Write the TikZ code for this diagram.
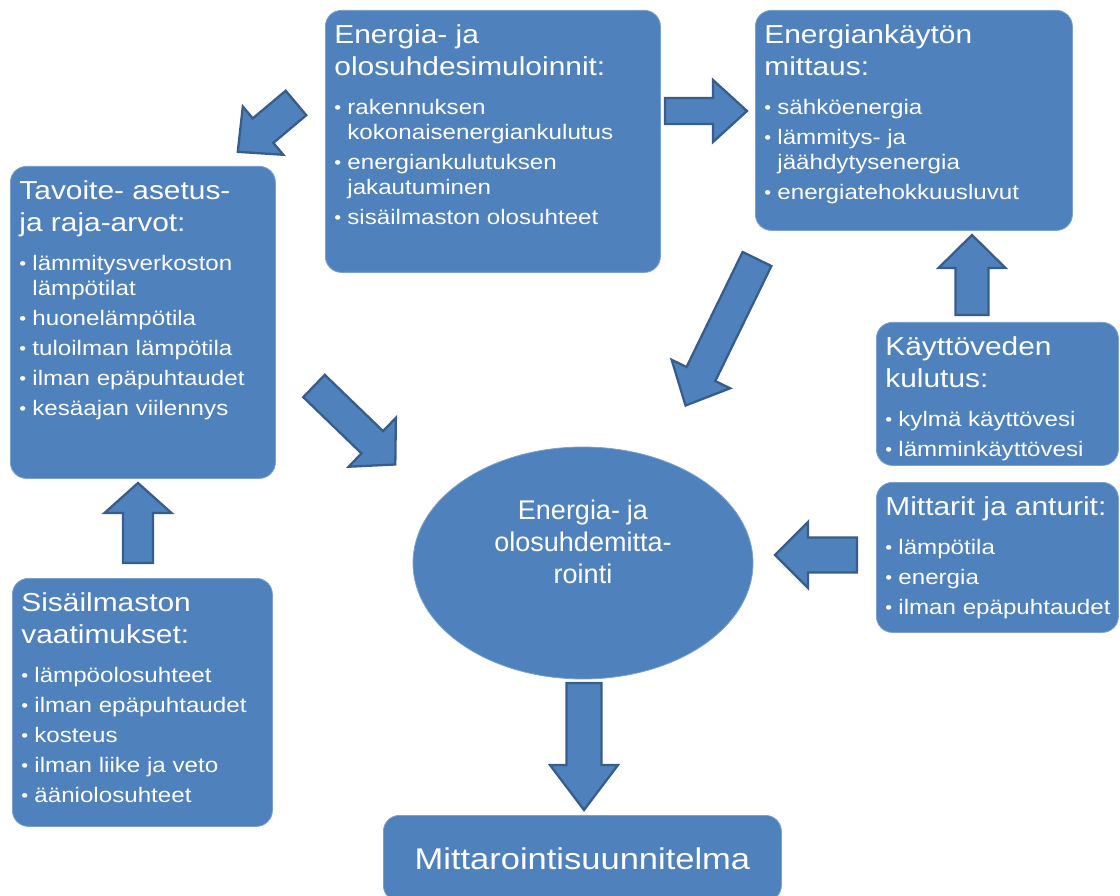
\documentclass[tikz,border=0pt]{standalone}
\usepackage{fontspec}
\setmainfont{Liberation Sans}[FakeStretch=1.15]
\newfontfamily\ovalfont{Liberation Sans}
\usetikzlibrary{shapes.geometric}
\definecolor{cBox}{RGB}{79,129,189}
\definecolor{cEdge}{RGB}{56,93,138}

% Otsikko ja luettelon rivit laatikoissa
\newcommand{\boxTitle}[1]{{\fontsize{26}{32}\selectfont\rule{0pt}{33pt}#1\par}\vspace{9pt}}
\newcommand{\bList}[1]{{\fontsize{21}{25}\selectfont\parskip=5pt #1}}
\newcommand{\bItem}[1]{\hangindent=13pt\hangafter=1\noindent\makebox[13pt][l]{\fontsize{17}{17}\selectfont\raisebox{0.5pt}{\textbullet}}#1\par}

\begin{document}
\begin{tikzpicture}[
    x=1pt, y=-1pt,
    infobox/.style={draw=cBox!75!white, line width=0.8pt, fill=cBox, rounded corners=16pt,
        inner sep=0pt, text=white, anchor=north west},
    blockarrow/.style={draw=cEdge, line width=2.3pt, fill=cBox, line join=miter}
]

    % --- Makro: laatikko, jonka teksti alkaa ylhäältä ---
    \newcommand{\infoBox}[5]{
        \node (#1) [infobox, minimum width=#3, minimum height=#4] at #2
            {\parbox[t][#4][t]{#3}{\raggedright\leftskip=9pt\hyphenpenalty=10000 #5}};
    }

    % --- Makro: paksu nuoli (alku, kulma, pituus, varsi, karki, karjen pituus) ---
    \newcommand{\blockArrow}[6]{
        \begin{scope}[shift={#1}, rotate=#2]
            \draw[blockarrow] (0,-#4/2) -- (#3-#6,-#4/2) -- (#3-#6,-#5/2) -- (#3,0)
                -- (#3-#6,#5/2) -- (#3-#6,#4/2) -- (0,#4/2) -- cycle;
        \end{scope}
    }

    \useasboundingbox (0,0) rectangle (1120,896);
    \fill[white] (0,0) rectangle (1120,896);
    \clip (0,0) rectangle (1120,896);

    % Simuloinnit
    \infoBox{sim}{(325,10)}{335pt}{262pt}{%
        \boxTitle{Energia- ja\\olosuhdesimuloinnit:}
        \bList{\bItem{rakennuksen\newline kokonaisenergiankulutus}
               \bItem{energiankulutuksen\newline jakautuminen}
               \bItem{sisäilmaston olosuhteet}}}

    % Energiankäytön mittaus
    \infoBox{meas}{(755,10)}{317pt}{220pt}{%
        \boxTitle{Energiankäytön\\mittaus:}
        \bList{\bItem{sähköenergia}
               \bItem{lämmitys- ja\newline jäähdytysenergia}
               \bItem{energiatehokkuusluvut}}}

    % Tavoitteet
    \infoBox{goal}{(10,166)}{265pt}{312pt}{%
        \boxTitle{Tavoite- asetus-\\ja raja-arvot:}
        \bList{\bItem{lämmitysverkoston\newline lämpötilat}
               \bItem{huonelämpötila}
               \bItem{tuloilman lämpötila}
               \bItem{ilman epäpuhtaudet}
               \bItem{kesäajan viilennys}}}

    % Käyttövesi
    \infoBox{water}{(876,322)}{242pt}{143pt}{%
        \boxTitle{Käyttöveden\\kulutus:}
        \bList{\bItem{kylmä käyttövesi}
               \bItem{lämminkäyttövesi}}}

    % Mittarit
    \infoBox{sensors}{(876,482)}{242pt}{150pt}{%
        \boxTitle{Mittarit ja anturit:}
        \bList{\bItem{lämpötila}
               \bItem{energia}
               \bItem{ilman epäpuhtaudet}}}

    % Sisäilmasto
    \infoBox{indoor}{(12,578)}{260pt}{248pt}{%
        \boxTitle{Sisäilmaston\\vaatimukset:}
        \bList{\bItem{lämpöolosuhteet}
               \bItem{ilman epäpuhtaudet}
               \bItem{kosteus}
               \bItem{ilman liike ja veto}
               \bItem{ääniolosuhteet}}}

    % Keskellä: mittarointi
    \node (mon) [ellipse, fill=cBox, draw=cBox!75!white, line width=0.8pt,
        minimum width=340pt, minimum height=232pt,
        label={[text=white, align=center, yshift=21pt,
                font=\ovalfont\fontsize{27}{32}\selectfont]center:Energia-\hspace{7pt}ja\hspace{14pt}\\olosuhdemitta-\\rointi}]
        at (583,563) {};

    % Alhaalla: suunnitelma
    \node (plan) [infobox, minimum width=398pt, minimum height=86pt,
        font=\fontsize{30}{36}\selectfont] at (383,815) {Mittarointisuunnitelma};

    % Nuolet
    \blockArrow{(296,103)}{220}{76}{32}{63}{33}
    \blockArrow{(665,111)}{0}{82}{26}{62}{34}
    \blockArrow{(757,259)}{244}{163}{32}{65}{35}
    \blockArrow{(314,386)}{-44}{113}{31}{68}{32}
    \blockArrow{(972,315)}{90}{80}{33}{67}{33}
    \blockArrow{(138,563)}{90}{80}{30}{67}{30}
    \blockArrow{(857,555)}{180}{82}{35}{66}{33}
    \blockArrow{(584,683)}{270}{127}{35}{68}{45}

\end{tikzpicture}
\end{document}
